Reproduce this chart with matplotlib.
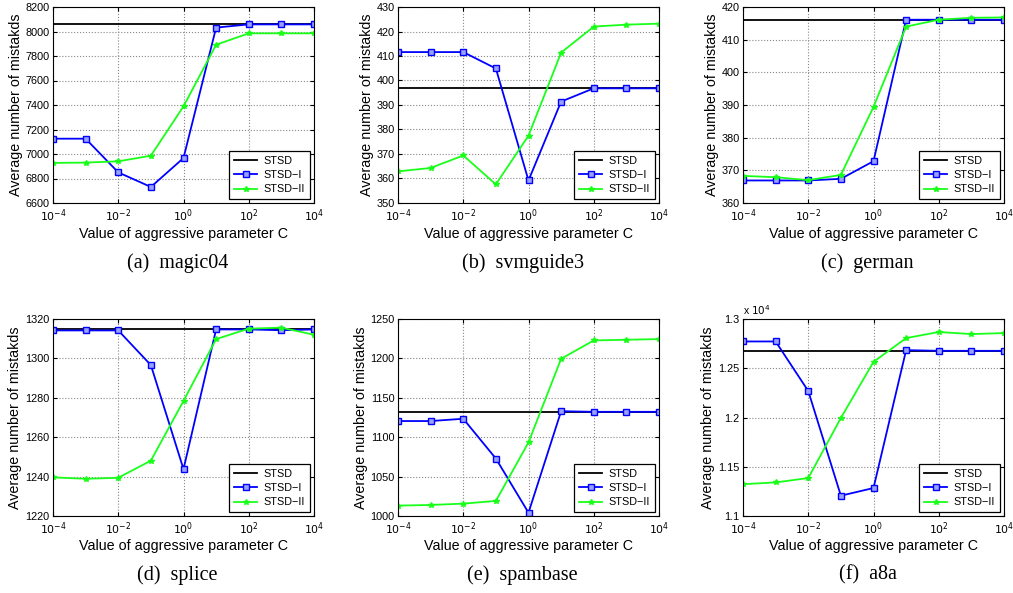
import matplotlib
matplotlib.use("Agg")
import matplotlib.pyplot as plt
from matplotlib.ticker import FixedLocator, FuncFormatter, NullLocator

plt.rcParams['font.family'] = ['Liberation Sans', 'DejaVu Sans']

C = [1e-4, 1e-3, 1e-2, 1e-1, 1e0, 1e1, 1e2, 1e3, 1e4]
x_ticks = [1e-4, 1e-2, 1e0, 1e2, 1e4]
x_tick_labels = ['$10^{-4}$', '$10^{-2}$', '$10^{0}$', '$10^{2}$', '$10^{4}$']

captions = ['(a)  magic04', '(b)  svmguide3', '(c)  german',
            '(d)  splice', '(e)  spambase', '(f)  a8a']

# magic04
magic_stsd = 8058
magic_i = [7125, 7125, 6850, 6731, 6967, 8032, 8058, 8058, 8058]
magic_ii = [6927, 6930, 6940, 6986, 7389, 7892, 7985, 7985, 7985]
magic_yticks = [6600, 6800, 7000, 7200, 7400, 7600, 7800, 8000, 8200]

# svmguide3
svm_stsd = 396.8
svm_i = [411.6, 411.6, 411.6, 404.9, 359.2, 391.4, 396.8, 396.8, 396.8]
svm_ii = [362.9, 364.3, 369.4, 357.6, 377.5, 411.4, 422.0, 422.8, 423.2]
svm_yticks = [350, 360, 370, 380, 390, 400, 410, 420, 430]

# german
german_stsd = 416.1
german_i = [366.9, 366.9, 366.9, 367.4, 372.8, 416.1, 416.1, 416.1, 416.1]
german_ii = [368.3, 367.9, 367.0, 368.6, 389.4, 414.0, 416.1, 416.7, 416.8]
german_yticks = [360, 370, 380, 390, 400, 410, 420]

# splice
splice_stsd = 1314.7
splice_i = [1314.2, 1314.2, 1314.2, 1296.6, 1243.8, 1314.7, 1314.7, 1314.3, 1314.7]
splice_ii = [1239.6, 1238.9, 1239.4, 1248.1, 1278.4, 1309.8, 1315.1, 1315.6, 1312.0]
splice_yticks = [1220, 1240, 1260, 1280, 1300, 1320]

# spambase
spam_stsd = 1132.4
spam_i = [1120.5, 1120.5, 1123.4, 1072.9, 1004.2, 1133.0, 1132.2, 1132.2, 1132.2]
spam_ii = [1013.2, 1014.0, 1015.7, 1019.1, 1093.4, 1199.5, 1222.8, 1223.7, 1224.5]
spam_yticks = [1000, 1050, 1100, 1150, 1200, 1250]

# a8a
a8a_stsd = 12677
a8a_i = [12772, 12772, 12269, 11206, 11284, 12684, 12677, 12677, 12677]
a8a_ii = [11323, 11341, 11385, 11995, 12565, 12806, 12868, 12847, 12857]
a8a_yticks = [11000, 11500, 12000, 12500, 13000]

panels = [
    (magic_stsd, magic_i, magic_ii, magic_yticks, None),
    (svm_stsd, svm_i, svm_ii, svm_yticks, None),
    (german_stsd, german_i, german_ii, german_yticks, None),
    (splice_stsd, splice_i, splice_ii, splice_yticks, None),
    (spam_stsd, spam_i, spam_ii, spam_yticks, None),
    (a8a_stsd, a8a_i, a8a_ii, a8a_yticks, 1e4),
]

W, H = 1013, 593
fig = plt.figure(figsize=(W / 100, H / 100), dpi=100)

lefts = [53, 398, 743]
rows = [(7, 203), (319, 516)]
cap_ys = [263, 575]
width = 261
green = '#1aff1a'
blue = '#0000ff'

for k, (stsd, si, sii, yt, scale) in enumerate(panels):
    r, c = divmod(k, 3)
    top, bot = rows[r]
    left = lefts[c]
    ax = fig.add_axes([left / W, (H - bot) / H, width / W, (bot - top) / H])
    ax.set_xscale('log')
    ax.plot(C, [stsd] * len(C), color='black', lw=1.3, label='STSD')
    ax.plot(C, si, color=blue, lw=1.3, marker='s', ms=4.5, mfc='#9aa0ff',
            mec=blue, mew=1.0, label='STSD\u2212I')
    ax.plot(C, sii, color=green, lw=1.3, marker='*', ms=4, mec=green,
            label='STSD\u2212II')
    ax.set_xlim(1e-4, 1e4)
    ax.set_ylim(yt[0], yt[-1])
    ax.xaxis.set_major_locator(FixedLocator(x_ticks))
    ax.xaxis.set_minor_locator(NullLocator())
    ax.set_xticklabels(x_tick_labels)
    ax.set_yticks(yt)
    if scale:
        ax.yaxis.set_major_formatter(FuncFormatter(lambda v, p: f'{v / 1e4:g}'))
        ax.text(0.0, 1.01, 'x $10^4$', transform=ax.transAxes, fontsize=7.5,
                ha='left', va='bottom')
    ax.tick_params(direction='in', length=3, labelsize=7.8, top=True, right=True)
    ax.tick_params(axis='x', pad=3.5)
    ax.tick_params(axis='y', pad=2.5)
    ax.grid(True, linestyle=':', color='#888888', lw=0.8)
    for s in ax.spines.values():
        s.set_linewidth(0.8)
    ax.set_xlabel('Value of aggressive parameter C', fontsize=10.3,
                  labelpad=2 if r == 0 else 1)
    ax.set_ylabel('Average number of mistakds', fontsize=10.3, labelpad=2)
    leg = ax.legend(loc='lower right', fontsize=7.8, fancybox=False,
                    edgecolor='black', framealpha=1, borderaxespad=0.4,
                    handlelength=2.2, labelspacing=0.4, borderpad=0.4,
                    handletextpad=0.6)
    leg.get_frame().set_linewidth(0.9)
    fig.text((left + width / 2 - 6) / W, 1 - cap_ys[r] / H, captions[k],
             fontsize=14.5, family='Liberation Serif', ha='center', va='center')

fig.savefig('out.png', dpi=100)
